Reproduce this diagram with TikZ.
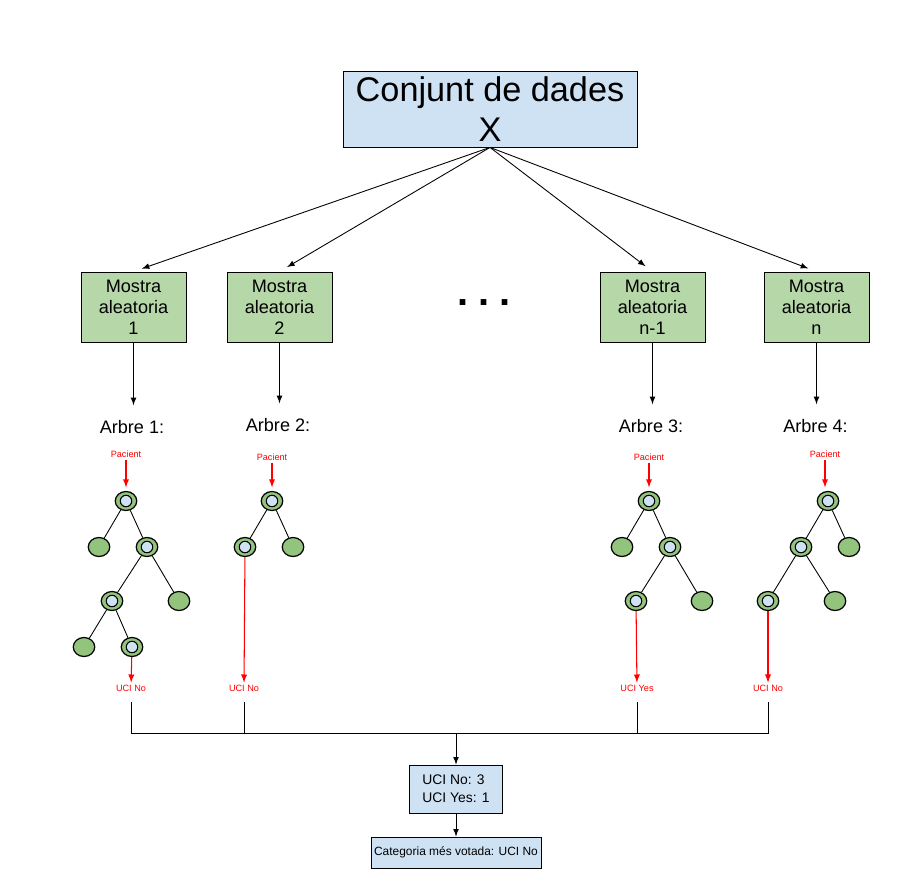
\documentclass[tikz,border=0pt]{standalone}
\usepackage{fontspec}
\setmainfont{Liberation Sans}
\usetikzlibrary{arrows, shapes.geometric}

\definecolor{boxblue}{HTML}{CFE2F3}
\definecolor{boxgreen}{HTML}{B6D7A8}
\definecolor{leafgreen}{HTML}{93C47D}

\tikzset{
  database/.style={draw, fill=boxblue, minimum width=5.88cm, minimum height=1.52cm,
    align=center, inner sep=0pt, font=\fontsize{19.5}{22.7}\selectfont},
  sample/.style={draw, fill=boxgreen, minimum width=2.1cm, minimum height=1.4cm,
    align=center, inner sep=0pt, font=\fontsize{10.3}{11.9}\selectfont},
  treename/.style={font=\fontsize{10.3}{11.9}\selectfont},
  leaf/.style={ellipse, draw, line width=0.7pt, fill=leafgreen,
    minimum width=0.43cm, minimum height=0.38cm, inner sep=0pt},
  split/.style={leaf, path picture={\draw[line width=0.6pt, fill=boxblue]
    (path picture bounding box.center) circle (0.115cm);}},
  redtext/.style={text=red, inner sep=1pt, font=\fontsize{5.2}{6}\selectfont},
  arr/.style={-latex, shorten >=5pt},
  redarr/.style={-latex, red, line width=0.6pt},
}

\begin{document}
\begin{tikzpicture}[x=0.02cm, y=-0.02cm, line width=0.5pt]
        \useasboundingbox (0,0) rectangle (915,878);

        % data set and samples
        \node[database] (data) at (490,109) {Conjunt de dades\\X};
        \node[sample] (s1) at (133.5,307) {Mostra\\aleatoria\\1};
        \node[sample] (s2) at (279.5,307) {Mostra\\aleatoria\\2};
        \node[sample] (s3) at (652.5,307) {Mostra\\aleatoria\\n-1};
        \node[sample] (s4) at (816.5,307) {Mostra\\aleatoria\\n};
        \node[anchor=base, font=\fontsize{22.7}{24}\selectfont\bfseries] (more) at (484,305)
            {.\hspace{0.24em}.\hspace{0.24em}.};

        \draw[arr] (data.south) -- (s1.north);
        \draw[arr] (data.south) -- (s2.north);
        \draw[arr] (data.south) -- (s3.north);
        \draw[arr] (data.south) -- (s4.north);

        \node[treename] (a1) at (132,427) {Arbre 1:};
        \node[treename] (a2) at (278,425) {Arbre 2:};
        \node[treename] (a3) at (651,426) {Arbre 3:};
        \node[treename] (a4) at (815.5,426) {Arbre 4:};

        \draw[arr] (s1) -- (s1 |- a1.north);
        \draw[arr] (s2) -- (s2 |- a2.north);
        \draw[arr] (s3) -- (s3 |- a3.north);
        \draw[arr] (s4) -- (s4 |- a4.north);

        % tree 1
        \node[redtext] (p1) at (126,454) {Pacient};
        \node[split] (t1a) at (126,501) {};
        \node[leaf]  (t1b) at (99,547) {};
        \node[split] (t1c) at (147,547) {};
        \node[split] (t1d) at (112,601) {};
        \node[leaf]  (t1e) at (179,601) {};
        \node[leaf]  (t1f) at (84,647) {};
        \node[split] (t1g) at (132,647) {};
        \node[redtext] (u1) at (131,688) {UCI No};
        \draw (t1a) -- (t1b);
        \draw (t1a) -- (t1c);
        \draw (t1c) -- (t1d);
        \draw (t1c) -- (t1e);
        \draw (t1d) -- (t1f);
        \draw (t1d) -- (t1g);
        \draw[redarr, shorten >=2pt] (p1) -- (t1a);
        \draw[redarr] (t1g) -- (u1);

        % tree 2
        \node[redtext] (p2) at (272,457) {Pacient};
        \node[split] (t2a) at (272,501) {};
        \node[split] (t2b) at (245,547) {};
        \node[leaf]  (t2c) at (293,547) {};
        \node[redtext] (u2) at (244,688) {UCI No};
        \draw (t2a) -- (t2b);
        \draw (t2a) -- (t2c);
        \draw[redarr, shorten >=2pt] (p2) -- (t2a);
        \draw[redarr] (t2b) -- (u2);

        % tree 3
        \node[redtext] (p3) at (649,457) {Pacient};
        \node[split] (t3a) at (649,501) {};
        \node[leaf]  (t3b) at (622,547) {};
        \node[split] (t3c) at (670,547) {};
        \node[split] (t3d) at (636,601) {};
        \node[leaf]  (t3e) at (702,601) {};
        \node[redtext] (u3) at (637,688) {UCI Yes};
        \draw (t3a) -- (t3b);
        \draw (t3a) -- (t3c);
        \draw (t3c) -- (t3d);
        \draw (t3c) -- (t3e);
        \draw[redarr, shorten >=2pt] (p3) -- (t3a);
        \draw[redarr] (t3d) -- (u3);

        % tree 4
        \node[redtext] (p4) at (825,454) {Pacient};
        \node[split] (t4a) at (828,501) {};
        \node[split] (t4b) at (801,547) {};
        \node[leaf]  (t4c) at (849,547) {};
        \node[split] (t4d) at (768,601) {};
        \node[leaf]  (t4e) at (835,601) {};
        \node[redtext] (u4) at (768,688) {UCI No};
        \draw (t4a) -- (t4b);
        \draw (t4a) -- (t4c);
        \draw (t4b) -- (t4d);
        \draw (t4b) -- (t4e);
        \draw[redarr, shorten >=2pt] (p4) -- (p4 |- t4a.north);
        \draw[redarr] (t4d) -- (u4);

        % votes
        \coordinate (bus) at (456,733);
        \node[draw, fill=boxblue, minimum width=1.86cm, minimum height=0.96cm, align=left,
              font=\fontsize{7.9}{10.4}\selectfont] (votes) at (456,789) {UCI No: 3\\UCI Yes: 1};
        \node[draw, fill=boxblue, minimum width=3.4cm, minimum height=0.62cm, inner sep=0pt,
              font=\fontsize{6.8}{8}\selectfont] (final) at (456,852.5) {Categoria més votada: UCI No};

        \draw[shorten <=5pt] (u1) |- (bus);
        \draw[shorten <=5pt] (u2) |- (bus);
        \draw[shorten <=5pt] (u3) |- (bus);
        \draw[shorten <=5pt] (u4) |- (bus);
        \draw[-latex] (bus) -- (votes);
        \draw[-latex] (votes) -- (final);

    \end{tikzpicture}
\end{document}
